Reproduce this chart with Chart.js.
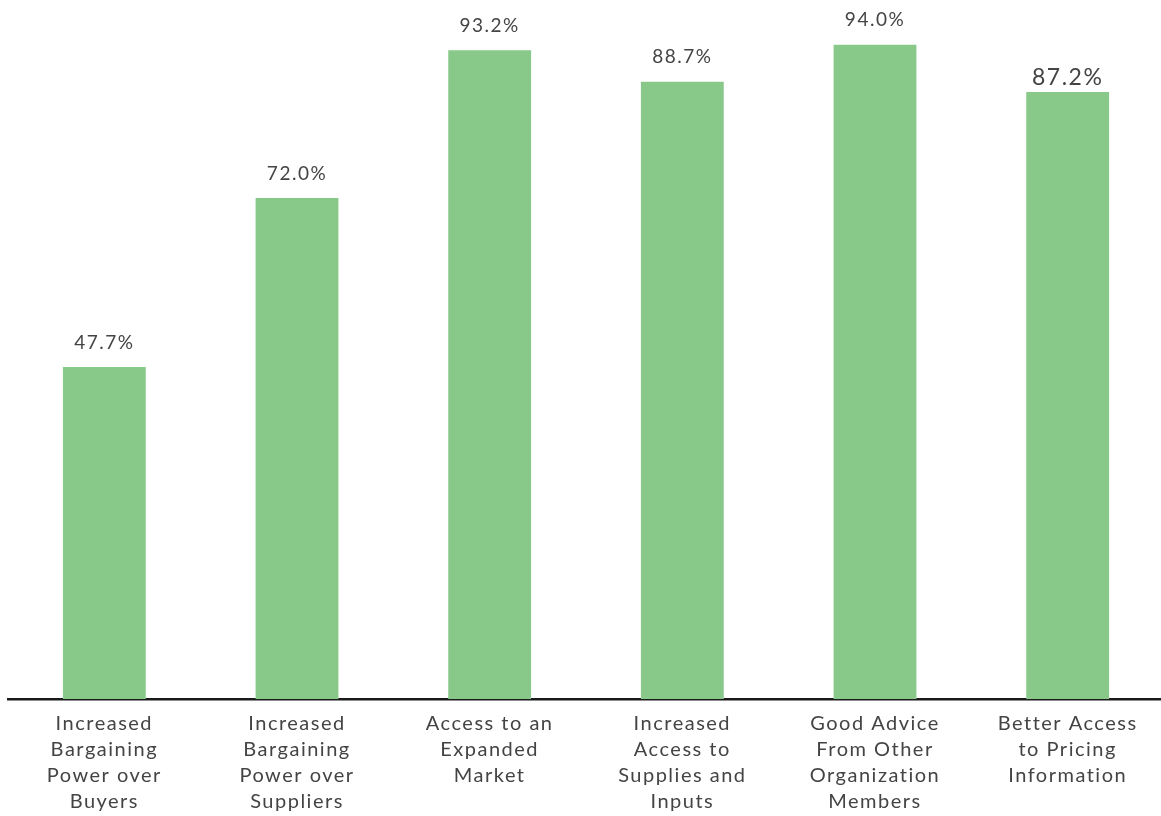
<!DOCTYPE html>
<html>
<head>
<meta charset="utf-8">
<script src="https://cdn.jsdelivr.net/npm/chart.js@4"></script>
<style>
  html, body { margin: 0; padding: 0; background: #fff; overflow: hidden; }
  #wrap { width: 1164px; height: 819px; position: relative; }
</style>
</head>
<body>
<div id="wrap"><canvas id="benefitsChart"></canvas></div>
<script>
const categories = [
  ["Increased", "Bargaining", "Power over", "Buyers"],
  ["Increased", "Bargaining", "Power over", "Suppliers"],
  ["Access to an", "Expanded", "Market"],
  ["Increased", "Access to", "Supplies and", "Inputs"],
  ["Good Advice", "From Other", "Organization", "Members"],
  ["Better Access", "to Pricing", "Information"]
];
const values = [47.7, 72.0, 93.2, 88.7, 94.0, 87.2];
const valueLabels = ["47.7%", "72.0%", "93.2%", "88.7%", "94.0%", "87.2%"];

const spacing = {
  id: "spacing",
  beforeDraw(chart) {
    chart.ctx.letterSpacing = "1.5px";
  }
};

// values printed above each bar
const barLabels = {
  id: "barLabels",
  afterDatasetsDraw(chart) {
    const ctx = chart.ctx;
    const meta = chart.getDatasetMeta(0);
    ctx.save();
    ctx.letterSpacing = "1.5px";
    ctx.fillStyle = "#444";
    ctx.textAlign = "center";
    ctx.textBaseline = "bottom";
    meta.data.forEach(function (bar, i) {
      const big = i === values.length - 1;
      ctx.font = (big ? "23px" : "19px") + " Lato";
      ctx.fillText(valueLabels[i], bar.x, bar.y - (big ? 3 : 15));
    });
    ctx.restore();
  }
};

new Chart(document.getElementById("benefitsChart"), {
  type: "bar",
  data: {
    labels: categories,
    datasets: [{
      data: values,
      backgroundColor: "#88c98a",
      borderWidth: 0,
      categoryPercentage: 1,
      barPercentage: 0.43
    }]
  },
  options: {
    responsive: true,
    maintainAspectRatio: false,
    animation: false,
    layout: { padding: { left: 8, right: 0, top: 3, bottom: 0 } },
    plugins: {
      legend: { display: false },
      tooltip: { enabled: false }
    },
    scales: {
      x: {
        grid: { display: false },
        border: { display: true, color: "#1a1a1a", width: 2.5 },
        ticks: {
          color: "#444",
          font: { family: "Lato", size: 20, lineHeight: 1.3 },
          padding: 4,
          maxRotation: 0,
          autoSkip: false
        }
      },
      y: {
        display: false,
        min: 0,
        max: 100
      }
    }
  },
  plugins: [spacing, barLabels]
});
</script>
</body>
</html>
